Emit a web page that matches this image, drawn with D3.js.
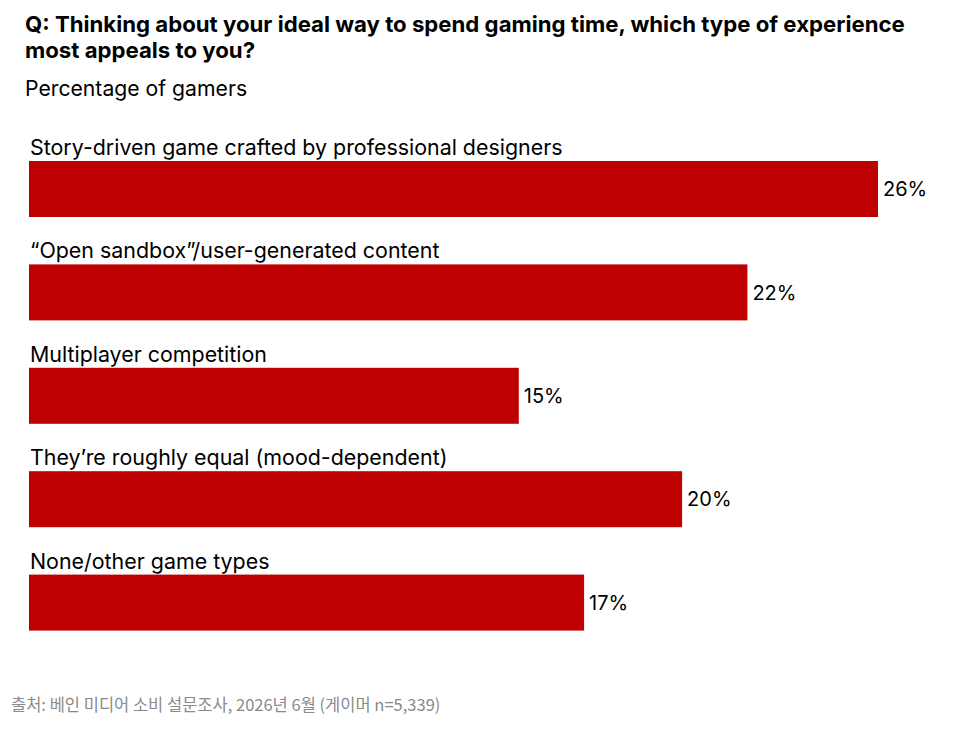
<!DOCTYPE html>
<html>
<head>
<meta charset="utf-8">
<script src="https://cdn.jsdelivr.net/npm/d3@7"></script>
<style>
  body { margin: 0; background: #fff; }
  svg { display: block; font-family: Inter, "Noto Sans", sans-serif; }
</style>
</head>
<body>
<svg id="chart"></svg>
<script>
const categories = [
    "Story-driven game crafted by professional designers",
    "\u201COpen sandbox\u201D/user-generated content",
    "Multiplayer competition",
    "They\u2019re roughly equal (mood-dependent)",
    "None/other game types"
];
const values = [26, 22, 15, 20, 17];
const titleLines = [
    "Q: Thinking about your ideal way to spend gaming time, which type of experience",
    "most appeals to you?"
];
const subtitle = "Percentage of gamers";
const source = "출처: 베인 미디어 소비 설문조사, 2026년 6월 (게이머 n=5,339)";

const W = 958, H = 736;
const svg = d3.select("#chart").attr("width", W).attr("height", H);

// title + subtitle
svg.selectAll(".title")
    .data(titleLines)
    .join("text")
    .attr("class", "title")
    .attr("x", 25)
    .attr("y", (_d, i) => 32 + i * 26)
    .attr("font-size", 22.2)
    .attr("font-weight", 700)
    .attr("fill", "#000")
    .text(d => d);

svg.append("text")
    .attr("x", 25).attr("y", 96)
    .attr("font-size", 21.2)
    .attr("fill", "#000")
    .text(subtitle);

// scales
const x = d3.scaleLinear()
    .domain([0, d3.max(values)])
    .range([29, 878]);

const y = d3.scaleBand()
    .domain(categories)
    .range([134, 651])
    .paddingInner(0)
    .paddingOuter(0);

const barTop = 27, barH = 56;

const rows = svg.selectAll(".row")
    .data(categories)
    .join("g")
    .attr("class", "row")
    .attr("transform", d => `translate(0, ${y(d)})`);

rows.append("text")
    .attr("x", 30)
    .attr("y", 21)
    .attr("font-size", 21.4)
    .attr("fill", "#000")
    .text(d => d);

rows.append("rect")
    .attr("x", x(0))
    .attr("y", barTop)
    .attr("width", (_d, i) => x(values[i]) - x(0))
    .attr("height", barH)
    .attr("fill", "#bf0000");

rows.append("text")
    .attr("x", (_d, i) => x(values[i]) + 5)
    .attr("y", barTop + barH / 2)
    .attr("dy", "0.36em")
    .attr("font-size", 20)
    .attr("fill", "#000")
    .text((_d, i) => values[i] + "%");

// source
svg.append("text")
    .attr("x", 11).attr("y", 711)
    .attr("font-family", "'Noto Sans CJK KR', 'Noto Sans', sans-serif")
    .attr("font-size", 16.5)
    .attr("fill", "#8a8a8a")
    .text(source);
</script>
</body>
</html>
